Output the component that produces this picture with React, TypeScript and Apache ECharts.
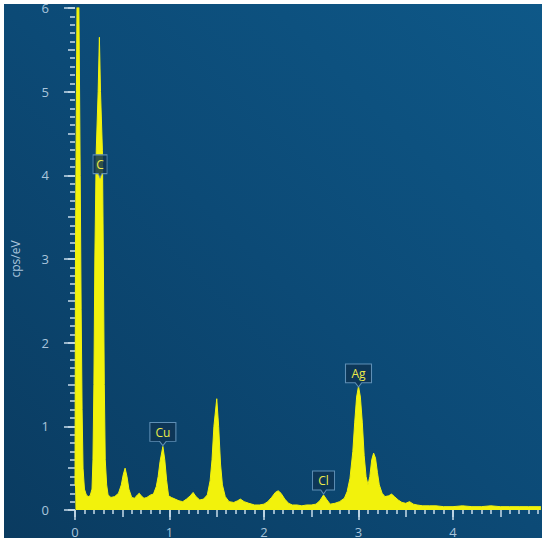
import React, { useEffect, useRef } from "react";
import * as echarts from "echarts";

const energies = [
  0.0, 0.005, 0.015, 0.03, 0.045, 0.055, 0.065, 0.075, 0.085, 0.1, 0.12, 0.14,
  0.16, 0.18, 0.19, 0.2, 0.21, 0.225, 0.245, 0.258, 0.27, 0.29, 0.3, 0.31, 0.32, 0.335, 0.35,
  0.38, 0.42, 0.46, 0.49, 0.51, 0.53, 0.55, 0.57, 0.6, 0.63, 0.66, 0.68, 0.7, 0.73, 0.76, 0.8, 0.83,
  0.86, 0.88, 0.9, 0.93, 0.95, 0.97, 0.99, 1.02, 1.06, 1.1, 1.14, 1.18, 1.22, 1.25, 1.28, 1.32, 1.36,
  1.4, 1.43, 1.45, 1.47, 1.5, 1.52, 1.54, 1.56, 1.59, 1.63, 1.68, 1.72, 1.75, 1.79, 1.84, 1.9, 1.95,
  2.0, 2.04, 2.08, 2.12, 2.15, 2.18, 2.22, 2.26, 2.3, 2.35, 2.4, 2.45, 2.5, 2.55, 2.59, 2.63, 2.66,
  2.7, 2.75, 2.8, 2.85, 2.88, 2.91, 2.94, 2.96, 2.98, 3.0, 3.02, 3.04, 3.06, 3.08, 3.1, 3.12, 3.14,
  3.16, 3.18, 3.2, 3.22, 3.25, 3.28, 3.32, 3.35, 3.38, 3.42, 3.46, 3.5, 3.54, 3.58, 3.62, 3.68, 3.75,
  3.82, 3.9, 4.0, 4.1, 4.2, 4.3, 4.4, 4.5, 4.6, 4.7, 4.8, 4.9, 4.93,
];

const counts = [
  0.3, 3.0, 5.0, 7.5, 5.5, 4.0, 2.4, 1.2, 0.5, 0.25, 0.18, 0.16,
  0.17, 0.25, 0.6, 1.5, 3.0, 4.3, 5.0, 5.65, 5.0, 4.3, 3.0, 1.5, 0.6, 0.3, 0.18,
  0.15, 0.16, 0.2, 0.3, 0.42, 0.5, 0.4, 0.25, 0.15, 0.14, 0.18, 0.2, 0.17, 0.14, 0.15, 0.18, 0.19,
  0.28, 0.4, 0.58, 0.76, 0.6, 0.35, 0.17, 0.15, 0.13, 0.11, 0.1, 0.13, 0.17, 0.21, 0.16, 0.12, 0.13,
  0.18, 0.35, 0.6, 1.0, 1.33, 1.0, 0.55, 0.3, 0.16, 0.1, 0.09, 0.11, 0.13, 0.1, 0.08, 0.06, 0.06,
  0.07, 0.1, 0.15, 0.21, 0.23, 0.2, 0.13, 0.08, 0.06, 0.06, 0.05, 0.06, 0.06, 0.07, 0.11, 0.18, 0.13,
  0.07, 0.08, 0.1, 0.14, 0.22, 0.38, 0.7, 1.05, 1.35, 1.48, 1.35, 1.05, 0.65, 0.4, 0.3, 0.4, 0.6,
  0.68, 0.62, 0.45, 0.3, 0.2, 0.16, 0.17, 0.19, 0.16, 0.12, 0.09, 0.08, 0.1, 0.07, 0.06, 0.05, 0.05,
  0.05, 0.04, 0.04, 0.05, 0.04, 0.04, 0.05, 0.04, 0.04, 0.04, 0.04, 0.04, 0.04,
];

const peakNames = ["C", "Cu", "Cl", "Ag"];
const peakEnergies = [0.265, 0.93, 2.63, 3.0];
const peakValues = [3.97, 0.77, 0.19, 1.47];
const peakBoxWidths = [14, 26, 22, 26];

const yTitle = "cps/eV";

const TICK = "#c9dcea";
const LABEL = "#a9c5dc";
const FONT = "Open Sans";

export default function App() {
  const ref = useRef<HTMLDivElement>(null);
  useEffect(() => {
    if (!ref.current) return;
    const chart = echarts.init(ref.current, undefined, { renderer: "svg" });
    const data = energies.map((e, i) => [e, counts[i]]);
    const isInt = (v: number) => Math.abs(v - Math.round(v)) < 1e-6;
    const xLabel = (v: number) => (isInt(v) && v < 4.99 ? String(Math.round(v)) : "");
    const yLabel = (v: number) => (isInt(v) ? String(Math.round(v)) : "");
    chart.setOption({
      animation: false,
      graphic: [
        {
          type: "rect",
          z: -10,
          shape: { x: 4, y: 4, width: 538, height: 534 },
          style: {
            fill: {
              type: "linear",
              x: 1,
              y: 0,
              x2: 0,
              y2: 1,
              colorStops: [
                { offset: 0, color: "#0e5888" },
                { offset: 0.5, color: "#0c4a76" },
                { offset: 1, color: "#0a3b60" },
              ],
            },
          },
        },
        {
          type: "rect",
          z: 100,
          shape: { x: 542, y: 0, width: 8, height: 546 },
          style: { fill: "#ffffff" },
        },
      ],
      grid: { left: 75, right: 2.5, top: 8, bottom: 36, outerBoundsMode: "none", containLabel: false },
      xAxis: [
        {
          type: "value",
          min: 0,
          max: 5,
          interval: 0.5,
          offset: 3,
          axisLine: { show: false },
          axisTick: { show: true, length: 7, lineStyle: { color: TICK, width: 1.5 } },
          minorTick: { show: true, splitNumber: 5, length: 4, lineStyle: { color: TICK, width: 1.5 } },
          splitLine: { show: false },
          axisLabel: { formatter: xLabel, color: LABEL, fontSize: 13, fontFamily: FONT, margin: 12 },
        },
        {
          type: "value",
          position: "bottom",
          min: 0,
          max: 5,
          interval: 1,
          offset: 3,
          axisLine: { show: false },
          axisTick: { show: true, length: 10, lineStyle: { color: TICK, width: 1.5 } },
          splitLine: { show: false },
          axisLabel: { show: false },
        },
      ],
      yAxis: [
        {
          type: "value",
          min: 0,
          max: 6,
          interval: 0.5,
          offset: 12,
          name: yTitle,
          nameLocation: "middle",
          nameGap: 42,
          nameTextStyle: { color: LABEL, fontSize: 12, fontFamily: FONT },
          axisLine: { show: false },
          axisTick: { show: true, length: 7, lineStyle: { color: TICK, width: 1.5 } },
          minorTick: { show: true, splitNumber: 5, length: 5, lineStyle: { color: TICK, width: 1.5 } },
          splitLine: { show: false },
          axisLabel: { formatter: yLabel, color: LABEL, fontSize: 13, fontFamily: FONT, margin: 14 },
        },
        {
          type: "value",
          position: "left",
          min: 0,
          max: 6,
          interval: 1,
          offset: 12,
          axisLine: { show: false },
          axisTick: { show: true, length: 11, lineStyle: { color: TICK, width: 1.5 } },
          splitLine: { show: false },
          axisLabel: { show: false },
        },
      ],
      series: [
        {
          type: "line",
          xAxisIndex: 0,
          yAxisIndex: 0,
          data,
          showSymbol: false,
          symbol: "none",
          lineStyle: { color: "#f2f20c", width: 1 },
          areaStyle: { color: "#f2f20c", opacity: 1 },
          markPoint: {
            symbol: "path://M0,0L24,0L24,18L15,18L12,22L9,18L0,18Z",
            symbolOffset: [0, "-50%"],
            itemStyle: { color: "rgba(14,52,84,0.85)", borderColor: "#5f8fb5", borderWidth: 1 },
            label: {
              show: true,
              formatter: "{b}",
              color: "#ecec4a",
              fontSize: 12,
              fontFamily: FONT,
              offset: [0, -2],
            },
            data: peakNames.map((n, i) => ({
              name: n,
              coord: [peakEnergies[i], peakValues[i]],
              symbolSize: [peakBoxWidths[i], 23],
            })),
          },
        },
      ],
    });
    return () => chart.dispose();
  }, []);
  return (
    <div
      ref={ref}
      style={{ position: "fixed", left: 0, top: 0, width: 550, height: 546, background: "#ffffff" }}
    />
  );
}
